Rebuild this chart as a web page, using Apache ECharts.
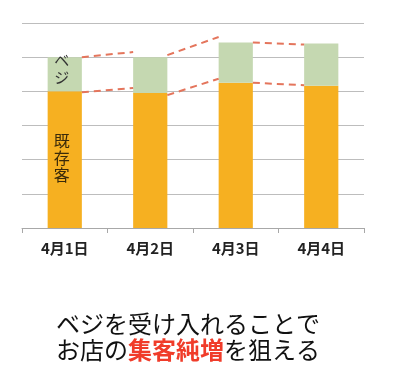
<!DOCTYPE html>
<html><head><meta charset="utf-8">
<script src="https://cdn.jsdelivr.net/npm/echarts@6/dist/echarts.min.js"></script>
<style>html,body{margin:0;padding:0;background:#fff}#c{width:400px;height:379px}</style>
</head><body><div id="c"></div>
<script>
const categories = ['4月1日', '4月2日', '4月3日', '4月4日'];
const existing = [4.0, 3.95, 4.25, 4.16];
const vegan = [1.0, 1.05, 1.18, 1.24];
const yTicks = [0, 1, 2, 3, 4, 5, 6];
const dashUpperFrom = [5.0, 5.06, 5.43];
const dashUpperTo = [5.15, 5.59, 5.37];
const dashLowerFrom = [3.97, 3.89, 4.25];
const dashLowerTo = [4.10, 4.37, 4.18];
const existingLabel = ['既', '存', '客'];
const veganLabel = ['ベ', 'ジ'];
const captionLine1 = 'ベジを受け入れることで';
const captionLine2 = ['お店の', '集客純増', 'を狙える'];

const FONT = '"Noto Sans CJK JP", "Noto Sans", sans-serif';
const chart = echarts.init(document.getElementById('c'), null, {renderer: 'canvas'});

const segData = dashUpperFrom.map((v, i) => [i, v, dashUpperTo[i], dashLowerFrom[i], dashLowerTo[i]]);
const inBarLabels = [existingLabel, veganLabel];
const inBarData = [
  [0, 0, existing[0], 0],
  [0, existing[0], existing[0] + vegan[0], 1]
];

const option = {
  animation: false,
  backgroundColor: '#fff',
  grid: {left: 22, right: 36, top: 23, bottom: 151, containLabel: false},
  xAxis: {
    type: 'category', data: categories, boundaryGap: true,
    axisLine: {lineStyle: {color: '#A8A8A8', width: 1}},
    axisTick: {show: true, length: 5, lineStyle: {color: '#A8A8A8'}},
    axisLabel: {color: '#222', fontSize: 15, fontWeight: 'bold', fontFamily: FONT, margin: 13}
  },
  yAxis: {
    type: 'value', min: yTicks[0], max: yTicks[yTicks.length - 1], interval: 1,
    axisLine: {show: false}, axisTick: {show: false}, axisLabel: {show: false},
    splitLine: {lineStyle: {color: '#BDBDBD', width: 1}}
  },
  series: [
    {type: 'bar', stack: 's', barWidth: '40%', itemStyle: {color: '#F6B021'}, data: existing},
    {type: 'bar', stack: 's', barWidth: '40%', itemStyle: {color: '#C5D8B1'}, data: vegan},
    {
      type: 'custom', z: 5, data: segData,
      renderItem: function (params, api) {
        const i = api.value(0);
        const hw = api.size([1, 0])[0] * 0.4 / 2;
        const u0 = api.coord([i, api.value(1)]);
        const u1 = api.coord([i + 1, api.value(2)]);
        const l0 = api.coord([i, api.value(3)]);
        const l1 = api.coord([i + 1, api.value(4)]);
        const style = {stroke: '#E4755C', lineWidth: 2, lineDash: [7, 5], fill: null};
        return {type: 'group', children: [
          {type: 'line', shape: {x1: u0[0] + hw, y1: u0[1], x2: u1[0] - hw, y2: u1[1]}, style: style},
          {type: 'line', shape: {x1: l0[0] + hw, y1: l0[1], x2: l1[0] - hw, y2: l1[1]}, style: style}
        ]};
      }
    },
    {
      type: 'custom', z: 6, data: inBarData,
      renderItem: function (params, api) {
        const i = api.value(0);
        const mid = (api.value(1) + api.value(2)) / 2;
        const p = api.coord([i, mid]);
        const chars = inBarLabels[api.value(3)];
        const isVegan = api.value(3) === 1;
        const fs = isVegan ? 15 : 16;
        const lh = 17;
        const children = chars.map((ch, k) => ({
          type: 'text',
          style: {
            text: ch, x: p[0] - 3, y: p[1] - (isVegan ? 5 : 2) + (k - (chars.length - 1) / 2) * lh,
            fill: isVegan ? '#333' : '#3A2A0A', font: fs + 'px ' + FONT,
            align: 'center', verticalAlign: 'middle'
          }
        }));
        return {type: 'group', children: children};
      }
    }
  ],
  graphic: [
    {type: 'text', left: 56, top: 312, z: 10,
     style: {text: captionLine1, font: '24px ' + FONT, fill: '#111'}},
    {type: 'text', left: 56, top: 338, z: 10,
     style: {
       text: '{a|' + captionLine2[0] + '}{r|' + captionLine2[1] + '}{a|' + captionLine2[2] + '}',
       rich: {
         a: {fontSize: 24, fontFamily: FONT, fill: '#111'},
         r: {fontSize: 24, fontFamily: FONT, fill: '#F03C2A', fontWeight: 'bold'}
       }
     }}
  ]
};
chart.setOption(option);
</script></body></html>
